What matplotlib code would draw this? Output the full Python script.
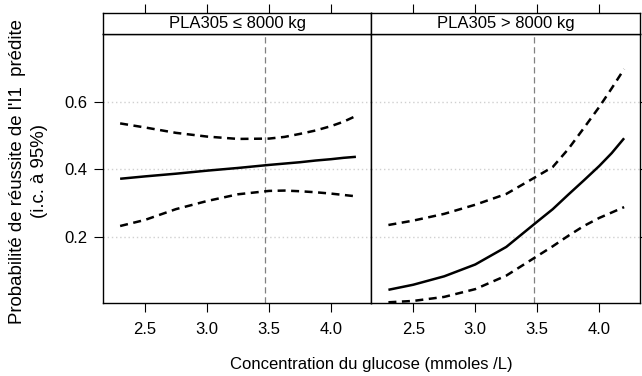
import matplotlib
matplotlib.use("Agg")
import matplotlib.pyplot as plt

plt.rcParams['font.family'] = ['Liberation Sans', 'DejaVu Sans']

# glucose values where the curves were read
glucose = [2.3, 2.5, 2.75, 3.0, 3.25, 3.5, 3.625, 3.75, 3.875, 4.0, 4.1, 4.2]

# PLA305 <= 8000 kg
low_pred = [0.372, 0.379, 0.387, 0.396, 0.404, 0.413, 0.417, 0.421, 0.426, 0.430, 0.434, 0.437]
low_upper = [0.536, 0.524, 0.508, 0.497, 0.490, 0.491, 0.496, 0.505, 0.515, 0.528, 0.541, 0.558]
low_lower = [0.232, 0.250, 0.282, 0.306, 0.326, 0.336, 0.337, 0.335, 0.332, 0.328, 0.324, 0.320]

# PLA305 > 8000 kg
high_pred = [0.043, 0.058, 0.083, 0.118, 0.170, 0.245, 0.282, 0.325, 0.367, 0.410, 0.448, 0.492]
high_upper = [0.235, 0.248, 0.268, 0.295, 0.327, 0.380, 0.407, 0.460, 0.522, 0.585, 0.640, 0.697]
high_lower = [0.006, 0.010, 0.022, 0.045, 0.085, 0.143, 0.172, 0.203, 0.232, 0.256, 0.272, 0.288]

strip_labels = ["PLA305 \u2264 8000 kg", "PLA305 > 8000 kg"]
ref_glucose = 3.47
xticks = [2.5, 3.0, 3.5, 4.0]
yticks = [0.2, 0.4, 0.6]

W, H = 642, 376
fig = plt.figure(figsize=(W / 100, H / 100), dpi=100)

x0, xmid, x1 = 103, 371.3, 639.5
ybot, ytop, stop = 303.3, 34.3, 12.7

panels = [(x0, xmid, low_pred, low_upper, low_lower),
          (xmid, x1, high_pred, high_upper, high_lower)]

for i, (a, b, pred, up, lo) in enumerate(panels):
    ax = fig.add_axes([a / W, 1 - ybot / H, (b - a) / W, (ybot - ytop) / H])
    ax.set_xlim(2.162, 4.324)
    ax.set_ylim(0.003, 0.80)
    for yv in yticks:
        ax.axhline(yv, color='#d0d0d0', lw=1.0, ls=(0, (1, 2)), zorder=0)
    ax.axvline(ref_glucose, color='#808080', lw=0.9, ls=(0, (5, 3)), zorder=1)
    ax.plot(glucose, pred, color='black', lw=1.8, solid_capstyle='butt')
    ax.plot(glucose, up, color='black', lw=1.8, ls=(0, (3.2, 2.2)))
    ax.plot(glucose, lo, color='black', lw=1.8, ls=(0, (3.2, 2.2)))

    ax.set_xticks(xticks)
    ax.set_xticklabels([f"{v:.1f}" for v in xticks], fontsize=12)
    ax.tick_params(axis='x', direction='out', length=6.3, width=0.8, pad=7.5)
    ax.set_yticks(yticks)
    if i == 0:
        ax.set_yticklabels([f"{v:.1f}" for v in yticks], fontsize=12)
        ax.tick_params(axis='y', direction='out', length=6.3, width=0.8, pad=5,
                       left=True, right=False)
    else:
        ax.yaxis.tick_right()
        ax.set_yticklabels([])
        ax.tick_params(axis='y', direction='out', length=6.3, width=0.8)
    for s in ax.spines.values():
        s.set_linewidth(1.0)

    # strip on top
    sx = fig.add_axes([a / W, 1 - ytop / H, (b - a) / W, (ytop - stop) / H])
    sx.set_xlim(2.162, 4.324)
    sx.set_ylim(0, 1)
    sx.set_yticks([])
    sx.xaxis.tick_top()
    sx.set_xticks(xticks)
    sx.set_xticklabels([])
    sx.tick_params(axis='x', direction='out', length=6.3, width=0.8)
    for s in sx.spines.values():
        s.set_linewidth(1.0)
    sx.text(0.5, 0.5, strip_labels[i], transform=sx.transAxes,
            ha='center', va='center', fontsize=12)

fig.text(28.6 / W, 1 - 171.5 / H,
         "Probabilit\u00e9 de r\u00e9ussite de l'I1  pr\u00e9dite\n(i.c. \u00e0 95%)",
         rotation=90, ha='center', va='center', multialignment='center',
         fontsize=13.4, linespacing=1.37)
fig.text(xmid / W, 1 - 365 / H, "Concentration du glucose (mmoles /L)",
         ha='center', va='center', fontsize=12)

fig.savefig("out.png", dpi=100)
